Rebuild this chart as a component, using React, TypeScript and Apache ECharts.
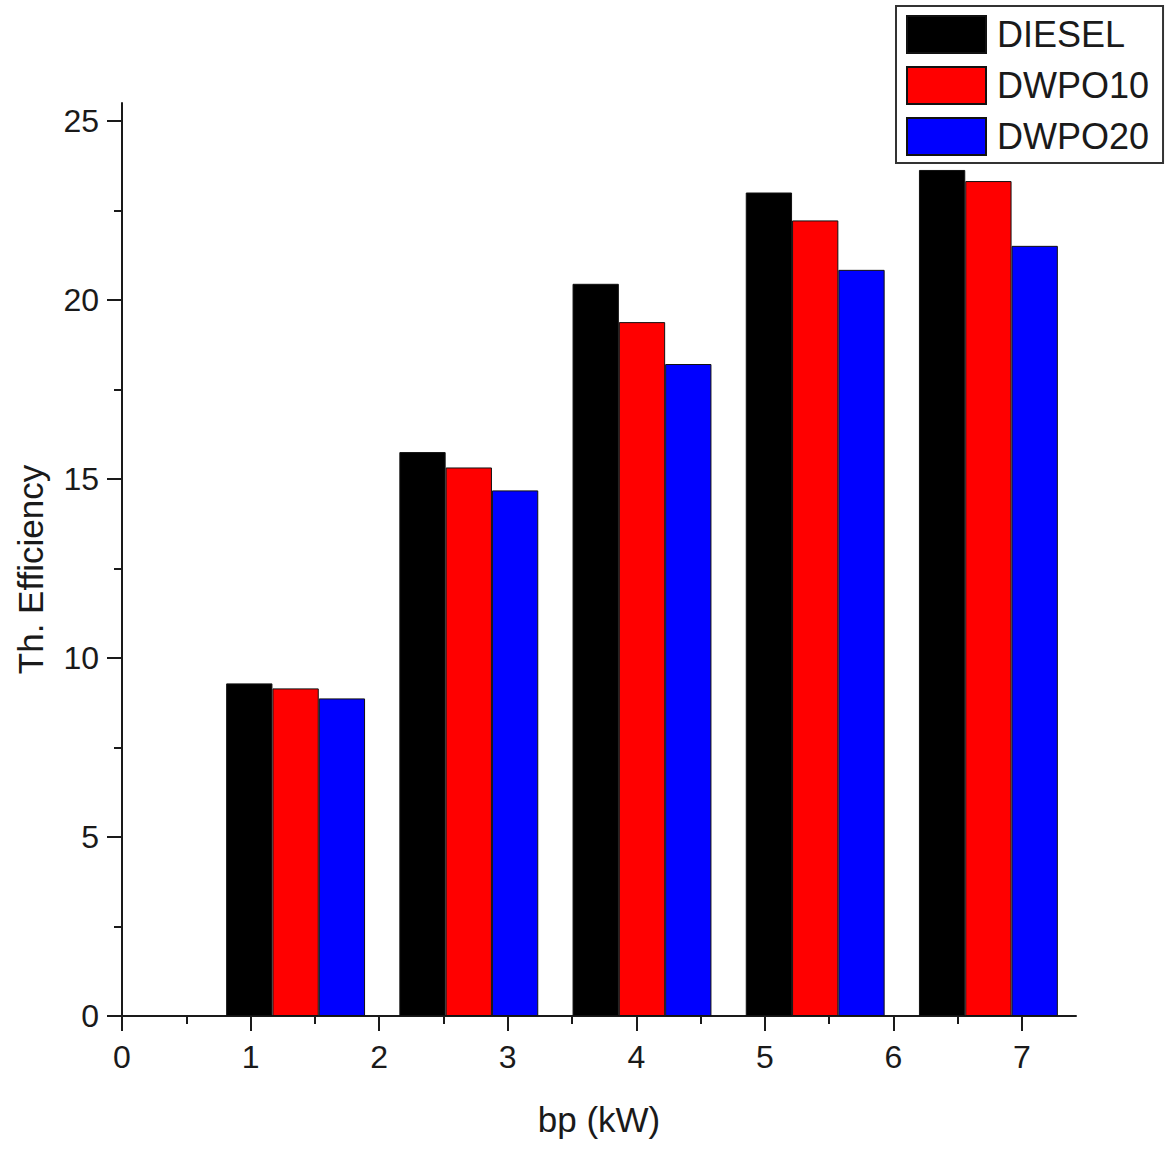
import React, { useEffect, useRef } from "react";
import * as echarts from "echarts";

const LOAD_GROUPS = ["1", "2", "3", "4", "5"];
const SERIES_NAMES = ["DIESEL", "DWPO10", "DWPO20"];
const DIESEL = [9.29, 15.75, 20.45, 23.0, 23.63];
const DWPO10 = [9.15, 15.32, 19.38, 22.22, 23.32];
const DWPO20 = [8.87, 14.68, 18.21, 20.84, 21.51];
const SERIES_COLORS = ["#000000", "#ff0000", "#0000ff"];
const X_MAJOR_TICKS = [0, 1, 2, 3, 4, 5, 6, 7];
const X_MINOR_TICKS = [0.5, 1.5, 2.5, 3.5, 4.5, 5.5, 6.5];
const Y_MAJOR_TICKS = [0, 5, 10, 15, 20, 25];
const Y_MINOR_TICKS = [2.5, 7.5, 12.5, 17.5, 22.5];
const X_MAX = 7.42;
const Y_MAX = 25.5;

const FONT = "'Liberation Sans', Arial, sans-serif";
const INK = "#1a1a1a";

export default function App() {
  const ref = useRef<HTMLDivElement>(null);
  useEffect(() => {
    if (!ref.current) return;
    const chart = echarts.init(ref.current, undefined, { renderer: "svg" });
    const plot = { left: 122, top: 103, width: 954, height: 913 };
    const values = [DIESEL, DWPO10, DWPO20];
    chart.setOption({
      animation: false,
      backgroundColor: "#ffffff",
      textStyle: { fontFamily: FONT },
      grid: [
        { ...plot, containLabel: false },
        { left: 209, top: 103, width: 866, height: 913, containLabel: false },
        { ...plot, containLabel: false },
      ],
      xAxis: [
        {
          type: "value",
          gridIndex: 0,
          min: 0,
          max: X_MAX,
          interval: 1,
          name: "bp (kW)",
          nameLocation: "middle",
          nameGap: 86,
          nameTextStyle: { fontSize: 35, color: INK, fontFamily: FONT },
          axisLine: { show: true, lineStyle: { color: INK, width: 2 } },
          axisTick: { show: true, length: 15, lineStyle: { color: INK, width: 2 }, customValues: X_MAJOR_TICKS },
          axisLabel: { show: true, fontSize: 32, color: INK, margin: 25, fontFamily: FONT, customValues: X_MAJOR_TICKS },
          splitLine: { show: false },
        },
        {
          type: "category",
          gridIndex: 1,
          data: LOAD_GROUPS,
          show: false,
        },
        {
          type: "value",
          gridIndex: 2,
          min: 0,
          max: X_MAX,
          interval: 0.5,
          axisLine: { show: false },
          axisTick: { show: true, length: 8, lineStyle: { color: INK, width: 2 }, customValues: X_MINOR_TICKS },
          axisLabel: { show: false },
          splitLine: { show: false },
        },
      ],
      yAxis: [
        {
          type: "value",
          gridIndex: 0,
          min: 0,
          max: Y_MAX,
          interval: 5,
          name: "Th. Efficiency",
          nameLocation: "middle",
          nameGap: 74,
          nameTextStyle: { fontSize: 35, color: INK, fontFamily: FONT, padding: [0, 0, 0, -20] },
          axisLine: { show: true, lineStyle: { color: INK, width: 2 } },
          axisTick: { show: true, length: 15, lineStyle: { color: INK, width: 2 }, customValues: Y_MAJOR_TICKS },
          axisLabel: { show: true, fontSize: 32, color: INK, margin: 23, fontFamily: FONT, customValues: Y_MAJOR_TICKS },
          splitLine: { show: false },
        },
        {
          type: "value",
          gridIndex: 1,
          min: 0,
          max: Y_MAX,
          show: false,
        },
        {
          type: "value",
          gridIndex: 2,
          min: 0,
          max: Y_MAX,
          interval: 2.5,
          axisLine: { show: false },
          axisTick: { show: true, length: 8, lineStyle: { color: INK, width: 2 }, customValues: Y_MINOR_TICKS },
          axisLabel: { show: false },
          splitLine: { show: false },
        },
      ],
      legend: {
        show: true,
        orient: "vertical",
        left: 896,
        top: 6,
        padding: [9, 14, 7, 10],
        itemWidth: 79,
        itemHeight: 37,
        itemGap: 12,
        icon: "rect",
        borderColor: "#333333",
        borderWidth: 2,
        backgroundColor: "#ffffff",
        textStyle: { fontSize: 36, lineHeight: 37, color: INK, fontFamily: FONT, padding: [0, 0, 0, 6] },
        data: SERIES_NAMES,
      },
      series: SERIES_NAMES.map((name, i) => ({
        name,
        type: "bar",
        xAxisIndex: 1,
        yAxisIndex: 1,
        data: values[i],
        barWidth: 46.3,
        barGap: "0%",
        itemStyle: { color: SERIES_COLORS[i], borderColor: "#111111", borderWidth: 1 },
      })),
    });
    return () => chart.dispose();
  }, []);
  return (
    <div
      ref={ref}
      style={{ position: "absolute", left: 0, top: 0, width: 1168, height: 1152, background: "#fff" }}
    />
  );
}
